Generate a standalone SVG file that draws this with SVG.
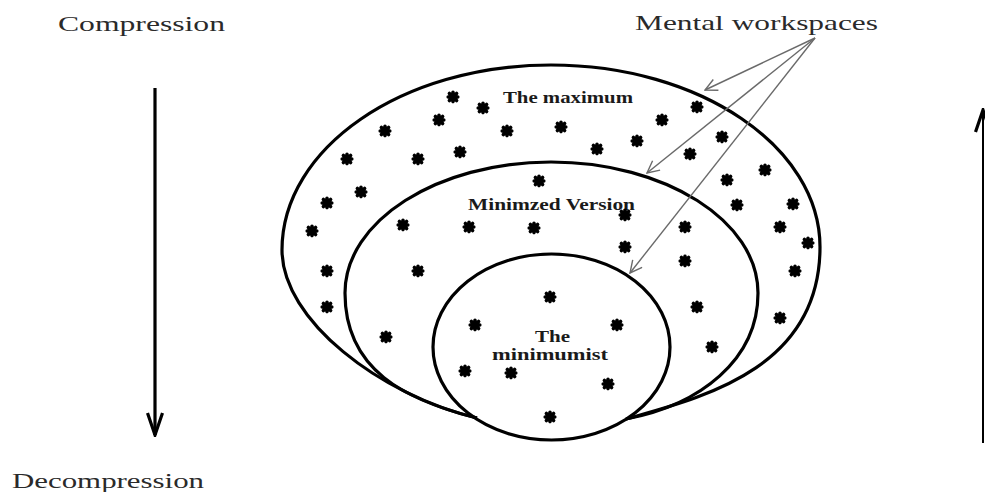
<svg xmlns="http://www.w3.org/2000/svg" xmlns:xlink="http://www.w3.org/1999/xlink" width="985" height="492" viewBox="0 0 985 492">
<style>
.shape{fill:none;stroke:#000;stroke-width:3.2}
.lbl{font-family:"Liberation Serif","Times New Roman",serif;fill:#2a2a2a}
.in{font-family:"Liberation Serif","Times New Roman",serif;font-weight:bold;fill:#1a1a1a}
.thin{stroke:#6a6a6a;stroke-width:1.4;fill:none}
</style>
<defs>
<g id="ast"><path d="M-3.6,-3.6 L3.6,3.6 M3.6,-3.6 L-3.6,3.6 M0,-4.6 L0,4.6 M-4.8,0 L4.8,0" stroke="#000" stroke-width="3.6" stroke-linecap="round"/></g>
<marker id="chev" viewBox="0 0 14 14" refX="13" refY="7" markerWidth="14" markerHeight="14" markerUnits="userSpaceOnUse" orient="auto"><path d="M1,1 L13,7 L1,13" fill="none" stroke="#6a6a6a" stroke-width="1.4"/></marker>
<marker id="bigchev" viewBox="0 0 26 18" refX="24" refY="9" markerWidth="26" markerHeight="18" markerUnits="userSpaceOnUse" orient="auto"><path d="M2,1.5 L24,9 L2,16.5" fill="none" stroke="#000" stroke-width="3.2"/></marker>
</defs>
<rect width="985" height="492" fill="#fff"/>

<g id="outer">
<path class="shape" d="M477,418 C380,395 282,320 282,250 C282,148 402,65 551,65 C700,65 820,147 820,247 C820,370 700,398 626,419"/>
<text class="in" x="503" y="103" font-size="16" textLength="130" lengthAdjust="spacingAndGlyphs">The maximum</text>
</g>
<g id="middle">
<path class="shape" d="M477,418 C405,400 345,370 345,293 C345,221 437,162 551,162 C665,162 758,221 758,293 C758,360 700,405 626,419"/>
<text class="in" x="468" y="210" font-size="16" textLength="167" lengthAdjust="spacingAndGlyphs">Minimzed Version</text>
</g>
<g id="inner">
<ellipse class="shape" cx="551.5" cy="347" rx="118.5" ry="93"/>
<text class="in" x="535" y="342" font-size="16" textLength="35" lengthAdjust="spacingAndGlyphs">The</text>
<text class="in" x="492" y="360" font-size="16" textLength="116" lengthAdjust="spacingAndGlyphs">minimumist</text>
</g>

<g id="stars">
<use xlink:href="#ast" x="453" y="97"/><use xlink:href="#ast" x="483" y="108"/><use xlink:href="#ast" x="439" y="120"/>
<use xlink:href="#ast" x="385" y="131"/><use xlink:href="#ast" x="507" y="131"/><use xlink:href="#ast" x="561" y="127"/>
<use xlink:href="#ast" x="347" y="159"/><use xlink:href="#ast" x="418" y="159"/><use xlink:href="#ast" x="460" y="152"/>
<use xlink:href="#ast" x="361" y="192"/><use xlink:href="#ast" x="327" y="203"/><use xlink:href="#ast" x="312" y="231"/>
<use xlink:href="#ast" x="327" y="271"/><use xlink:href="#ast" x="327" y="307"/>
<use xlink:href="#ast" x="697" y="107"/><use xlink:href="#ast" x="662" y="120"/><use xlink:href="#ast" x="637" y="141"/>
<use xlink:href="#ast" x="597" y="149"/><use xlink:href="#ast" x="722" y="137"/><use xlink:href="#ast" x="690" y="154"/>
<use xlink:href="#ast" x="727" y="180"/><use xlink:href="#ast" x="765" y="170"/><use xlink:href="#ast" x="737" y="205"/>
<use xlink:href="#ast" x="793" y="204"/><use xlink:href="#ast" x="780" y="227"/><use xlink:href="#ast" x="808" y="243"/>
<use xlink:href="#ast" x="795" y="271"/><use xlink:href="#ast" x="780" y="318"/>
<use xlink:href="#ast" x="539" y="181"/><use xlink:href="#ast" x="403" y="225"/><use xlink:href="#ast" x="469" y="227"/>
<use xlink:href="#ast" x="534" y="228"/><use xlink:href="#ast" x="625" y="215"/><use xlink:href="#ast" x="418" y="271"/>
<use xlink:href="#ast" x="386" y="337"/><use xlink:href="#ast" x="685" y="227"/><use xlink:href="#ast" x="625" y="247"/>
<use xlink:href="#ast" x="685" y="261"/><use xlink:href="#ast" x="697" y="307"/><use xlink:href="#ast" x="712" y="347"/>
<use xlink:href="#ast" x="550" y="297"/><use xlink:href="#ast" x="475" y="325"/><use xlink:href="#ast" x="617" y="325"/>
<use xlink:href="#ast" x="465" y="371"/><use xlink:href="#ast" x="511" y="373"/><use xlink:href="#ast" x="608" y="384"/>
<use xlink:href="#ast" x="550" y="417"/>
</g>

<g id="labels">
<text class="lbl" x="58" y="31" font-size="22" textLength="167" lengthAdjust="spacingAndGlyphs">Compression</text>
<text class="lbl" x="12" y="488" font-size="22" textLength="192" lengthAdjust="spacingAndGlyphs">Decompression</text>
<text class="lbl" x="635" y="30" font-size="22" textLength="243" lengthAdjust="spacingAndGlyphs">Mental workspaces</text>
</g>

<g id="connectors">
<line class="thin" x1="815" y1="38" x2="705" y2="90" marker-end="url(#chev)"/>
<line class="thin" x1="815" y1="38" x2="647" y2="173" marker-end="url(#chev)"/>
<line class="thin" x1="815" y1="38" x2="630" y2="273" marker-end="url(#chev)"/>
<line x1="155" y1="88" x2="155" y2="435" stroke="#000" stroke-width="3.2" marker-end="url(#bigchev)"/>
<line x1="983" y1="443" x2="983" y2="110" stroke="#000" stroke-width="2" marker-end="url(#bigchev)"/>
</g>
</svg>
